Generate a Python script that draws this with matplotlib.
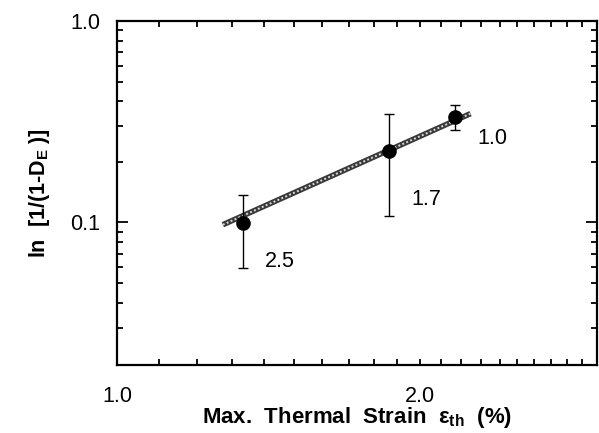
import matplotlib
matplotlib.use("Agg")
import matplotlib.pyplot as plt
from matplotlib.ticker import FixedLocator, NullFormatter, FixedFormatter

plt.rcParams['font.family'] = ['Liberation Sans', 'DejaVu Sans']
plt.rcParams['mathtext.fontset'] = 'custom'
plt.rcParams['mathtext.rm'] = 'Liberation Sans'
plt.rcParams['mathtext.bf'] = 'Liberation Sans:bold'
plt.rcParams['mathtext.it'] = 'Liberation Sans:italic'

# data
strain = [1.333, 1.865, 2.167]
damage = [0.0993, 0.2256, 0.335]
err_low = [0.0593, 0.108, 0.289]
err_high = [0.137, 0.347, 0.385]
point_labels = ["2.5", "1.7", "1.0"]
fit_x = [1.274, 2.246]
fit_y = [0.0974, 0.347]

x_major = [1.0, 2.0, 3.0]
x_major_labels = ["1.0", "2.0", ""]
x_minor = [1.1, 1.2, 1.3, 1.4, 1.5, 1.6, 1.7, 1.8, 1.9,
           2.1, 2.2, 2.3, 2.4, 2.5, 2.6, 2.7, 2.8, 2.9]
y_major = [0.1, 1.0]
y_major_labels = ["0.1", "1.0"]
y_minor = [0.03, 0.04, 0.05, 0.06, 0.07, 0.08, 0.09,
           0.2, 0.3, 0.4, 0.5, 0.6, 0.7, 0.8, 0.9]

fig = plt.figure(figsize=(5.99, 4.33), dpi=100)
ax = fig.add_axes([117/599, 68/433, 480/599, 344/433])
ax.set_xscale('log')
ax.set_yscale('log')
ax.set_xlim(1.0, 3.0)
ax.set_ylim(0.0196, 1.0)

# fit line (textured gray)
ax.plot(fit_x, fit_y, color='#3a3a3a', lw=4.0, solid_capstyle='butt', zorder=2)
ax.plot(fit_x, fit_y, color='#d8d8d8', lw=1.4, linestyle=(0, (1, 1.2)), zorder=3)

lower = [d - l for d, l in zip(damage, err_low)]
upper = [h - d for d, h in zip(damage, err_high)]
ax.errorbar(strain, damage, yerr=[lower, upper], fmt='o', color='black',
            markersize=9.5, elinewidth=1.0, capsize=3.5, capthick=1.0, zorder=4)

offsets = [(22, -38), (22, -48), (22, -22)]
for x, y, lab, (dx, dy) in zip(strain, damage, point_labels, offsets):
    ax.annotate(lab, (x, y), xytext=(dx, dy), textcoords='offset pixels',
                fontsize=15.5, ha='left', va='center')

ax.xaxis.set_major_locator(FixedLocator(x_major))
ax.xaxis.set_major_formatter(FixedFormatter(x_major_labels))
ax.xaxis.set_minor_locator(FixedLocator(x_minor))
ax.xaxis.set_minor_formatter(NullFormatter())
ax.yaxis.set_major_locator(FixedLocator(y_major))
ax.yaxis.set_major_formatter(FixedFormatter(y_major_labels))
ax.yaxis.set_minor_locator(FixedLocator(y_minor))
ax.yaxis.set_minor_formatter(NullFormatter())

ax.tick_params(which='both', direction='in', top=True, right=True, width=1.3,
               labelsize=15.5)
ax.tick_params(axis='x', which='both', length=4, pad=15)
ax.tick_params(axis='y', which='major', length=8, pad=12)
ax.tick_params(axis='y', which='minor', length=4)
for s in ax.spines.values():
    s.set_linewidth(1.6)

ax.set_xlabel('Max.  Thermal  Strain  ε$_{\\mathbf{th}}$  (%)', fontsize=16,
              fontweight='bold', labelpad=-1)
ax.set_ylabel('ln  [1/(1-D$_{\\mathbf{E}}$ )]', fontsize=15.5, fontweight='bold',
              labelpad=13)

fig.savefig('out.png', dpi=100)
